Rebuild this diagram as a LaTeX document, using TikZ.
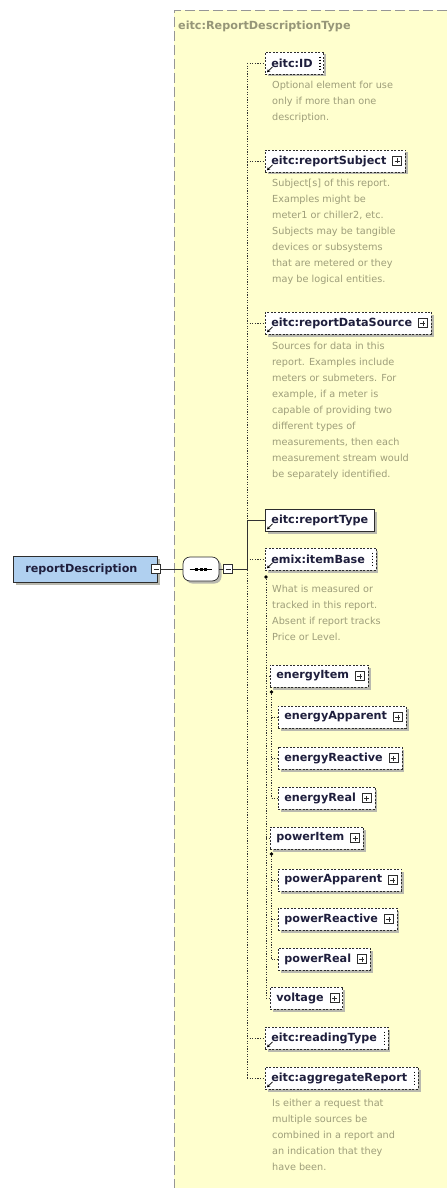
\documentclass[tikz,border=0pt]{standalone}
\usepackage{fontspec}
\usetikzlibrary{shadows,arrows.meta}
\newfontfamily\dvs{DejaVu Sans}
\newcommand\lblfont{\dvs\bfseries\fontsize{11.2}{12}\selectfont}
\newcommand\descfont{\dvs\fontsize{9.7}{16}\selectfont}
\newcommand\padplus{\kern13pt}
\newcommand\padmark{\kern5pt}
\definecolor{bgyellow}{RGB}{255,255,206}
\definecolor{framecol}{RGB}{150,150,150}
\definecolor{desccol}{RGB}{158,158,122}
\definecolor{titlecol}{RGB}{150,150,120}
\definecolor{labelcol}{RGB}{30,30,60}
\definecolor{boxline}{RGB}{45,45,45}
\definecolor{shadowcol}{RGB}{185,185,175}
\definecolor{rdblue}{RGB}{176,208,240}
\definecolor{treecol}{RGB}{50,50,50}

\tikzset{
  elem/.style={draw=boxline, fill=white, anchor=west, minimum height=22pt,
    inner xsep=6pt, inner ysep=0pt, font=\lblfont, text=labelcol, line width=0.6pt,
    drop shadow={shadow xshift=2.5pt, shadow yshift=-2.5pt, fill=shadowcol, opacity=1}},
  opt/.style={elem, dash pattern=on 2pt off 1.5pt},
  req/.style={elem, line width=0.9pt},
  desc/.style={anchor=north west, inner sep=0pt, align=left, font=\descfont, text=desccol},
  sqbox/.style={draw=boxline, fill=white, minimum size=9pt, inner sep=0pt, line width=0.5pt},
  minusbox/.style={sqbox, path picture={
    \draw ([xshift=2pt]path picture bounding box.west) -- ([xshift=-2pt]path picture bounding box.east);}},
  plusbox/.style={sqbox, path picture={
    \draw ([xshift=2pt]path picture bounding box.west) -- ([xshift=-2pt]path picture bounding box.east);
    \draw ([yshift=2pt]path picture bounding box.south) -- ([yshift=-2pt]path picture bounding box.north);}},
  treeline/.style={draw=treecol, line width=0.8pt},
  dotline/.style={draw=treecol, line width=0.9pt, dash pattern=on 1.2pt off 1.4pt},
  headdot/.style={circle, fill=black, inner sep=0pt, minimum size=3.6pt},
  refarrow/.style={draw=black, line width=0.7pt, -{Stealth[length=3pt,width=3.2pt]}},
  contentmark/.style={draw=black, line width=1.1pt, dash pattern=on 1.6pt off 1.4pt}
}

\begin{document}
\begin{tikzpicture}[x=1pt,y=-1pt]
\useasboundingbox (0,0) rectangle (447,1190);
\fill[white] (0,0) rectangle (447,1190);

% complex type area
\fill[bgyellow] (174,10) rectangle (447,1188);
\draw[framecol, line width=0.8pt, dash pattern=on 10pt off 4pt] (447,10) -- (174,10) -- (174,1188);
\node[anchor=west, inner sep=0pt, font=\lblfont, text=titlecol] (ttl) at (178,26) {eitc:ReportDescriptionType};

% root element and sequence compositor
\node[elem, anchor=west, fill=rdblue, minimum width=144pt, minimum height=26pt, line width=0.8pt] (rd) at (13,569) {reportDescription\kern8pt};
\node[minusbox] (rdm) at (156,569) {};
\node[draw=boxline, fill=white, rounded corners=7pt, minimum width=36pt, minimum height=24pt, inner sep=0pt, line width=0.7pt,
  drop shadow={shadow xshift=2.5pt, shadow yshift=-2.5pt, fill=shadowcol, opacity=1}] (seq) at (201,569) {};
\draw[black, line width=0.8pt] ([xshift=7pt]seq.west) -- ([xshift=-7pt]seq.east);
\foreach \dx in {-4.5,0,4.5} \fill[black] ([xshift=\dx pt]seq.center) ++(-1.5,-1.5) rectangle ++(3,3);
\node[minusbox] (seqm) at (228,569) {};
\coordinate (fork) at (247,569);

% children of the sequence
\node[opt] (id) at (265,63) {eitc:ID\padmark};
\node[opt] (subj) at (265,161) {eitc:reportSubject\padplus};
\node[opt] (dsrc) at (265,323) {eitc:reportDataSource\padplus};
\node[req] (rtype) at (265,520) {eitc:reportType};
\node[opt] (ibase) at (265,559) {emix:itemBase\padmark};
\node[opt] (eitem) at (270,676) {energyItem\padplus};
\node[opt] (eapp) at (278,717) {energyApparent\padplus};
\node[opt] (erea) at (278,758) {energyReactive\padplus};
\node[opt] (ereal) at (278,798) {energyReal\padplus};
\node[opt] (pitem) at (270,838) {powerItem\padplus};
\node[opt] (papp) at (278,880) {powerApparent\padplus};
\node[opt] (prea) at (278,919) {powerReactive\padplus};
\node[opt] (preal) at (278,959) {powerReal\padplus};
\node[opt] (volt) at (270,998) {voltage\padplus};
\node[opt] (rdt) at (265,1038) {eitc:readingType\padmark};
\node[opt] (aggr) at (265,1078) {eitc:aggregateReport\padmark};

% expand buttons
\foreach \n in {subj,dsrc,eitem,eapp,erea,ereal,pitem,papp,prea,preal,volt}
  \node[plusbox] (\n p) at ([xshift=-8.5pt]\n.east) {};

% simple content markers
\foreach \n in {id,ibase,rdt,aggr}
  \draw[contentmark] ([shift={(-4,5)}]\n.north east) -- ([shift={(-4,-5)}]\n.south east);

% reference arrows
\foreach \n in {id,subj,dsrc,rtype,ibase,rdt,aggr}
  \draw[refarrow] ([shift={(7.5,-7.5)}]\n.south west) -- ([shift={(2,-2)}]\n.south west);

% annotations
\node[desc] (idd) at (272,80.5) {Optional element for use\\only if more than one\\description.};
\node[desc] (subjd) at (272,178.5) {Subject[s] of this report.\\Examples might be\\meter1 or chiller2, etc.\\Subjects may be tangible\\devices or subsystems\\that are metered or they\\may be logical entities.};
\node[desc] (dsrcd) at (272,341.5) {Sources for data in this\\report. Examples include\\meters or submeters. For\\example, if a meter is\\capable of providing two\\different types of\\measurements, then each\\measurement stream would\\be separately identified.};
\node[desc] (ibased) at (272,584.5) {What is measured or\\tracked in this report.\\Absent if report tracks\\Price or Level.};
\node[desc] (aggrd) at (272,1099) {Is either a request that\\multiple sources be\\combined in a report and\\an indication that they\\have been.};

% optional branches of the sequence
\draw[dotline] (id.west -| fork) -- (aggr.west -| fork);
\foreach \n in {id,subj,dsrc,ibase,rdt,aggr}
  \draw[dotline] (\n.west -| fork) -- (\n.west);

% substitution group of emix:itemBase
\node[headdot] (h0) at (266,577) {};
\draw[dotline] (h0) -- (h0 |- volt.west);
\foreach \n in {eitem,pitem,volt}
  \draw[dotline] (h0 |- \n.west) -- (\n.west);
\node[headdot] (h1) at (271.5,692) {};
\draw[dotline] (h1) -- (h1 |- ereal.west);
\foreach \n in {eapp,erea,ereal}
  \draw[dotline] (h1 |- \n.west) -- (\n.west);
\node[headdot] (h2) at (271.5,854) {};
\draw[dotline] (h2) -- (h2 |- preal.west);
\foreach \n in {papp,prea,preal}
  \draw[dotline] (h2 |- \n.west) -- (\n.west);

% model group connectors
\draw[treeline] (rdm.east) -- (seq.west);
\draw[treeline] (seq.east) -- (seqm.west);
\draw[treeline] (seqm.east) -- (fork) |- (rtype.west);
\end{tikzpicture}
\end{document}
